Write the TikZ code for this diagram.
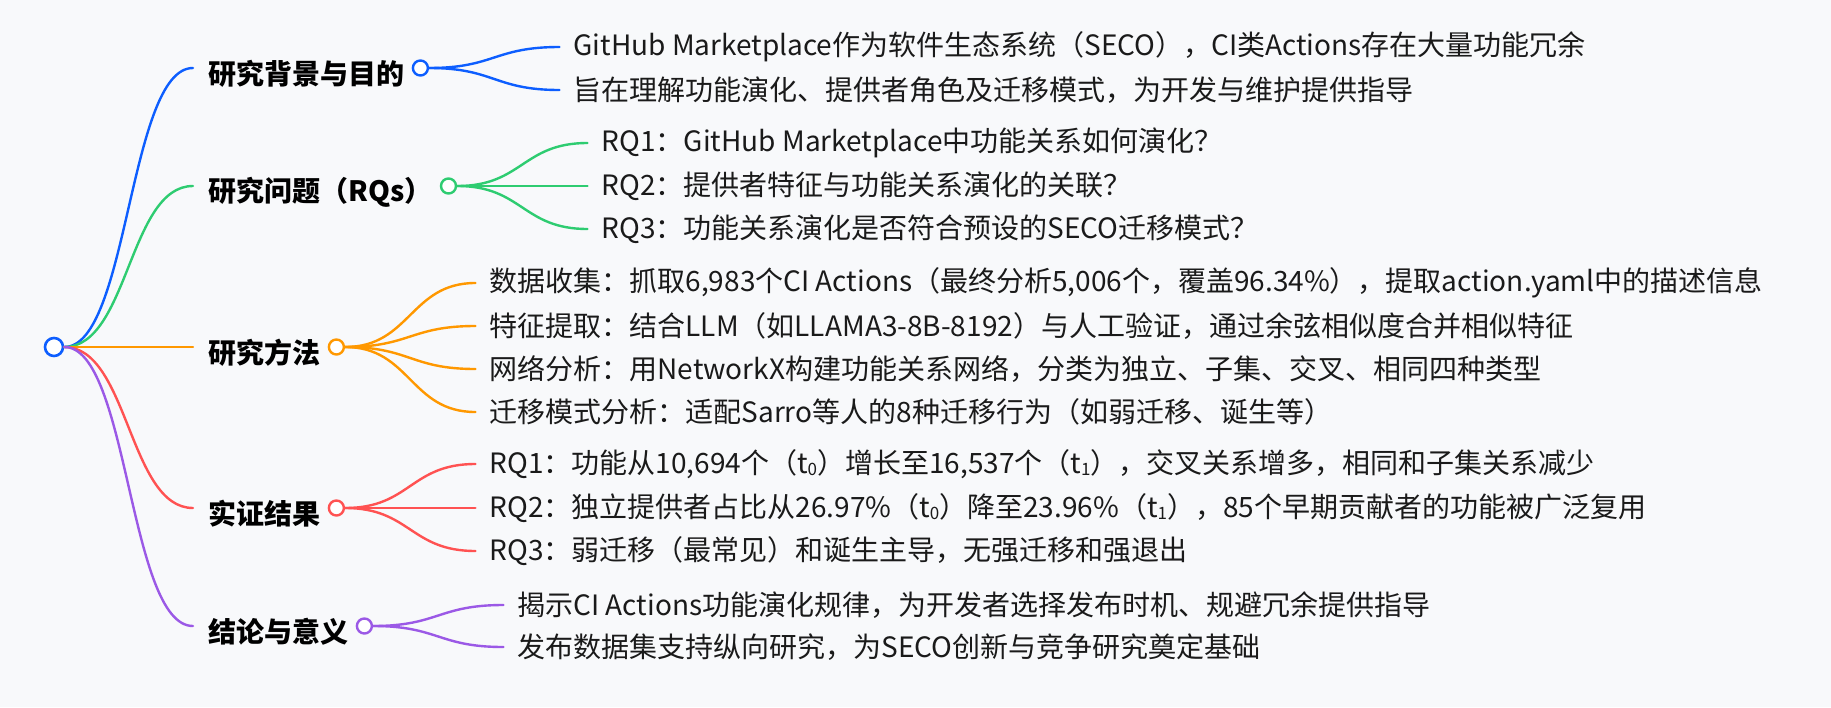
\documentclass[tikz,border=0pt]{standalone}
\usepackage{fontspec}
\setmainfont{Noto Sans CJK SC}
\usetikzlibrary{calc}
\definecolor{bgc}{HTML}{F8F9FB}
\definecolor{cblue}{HTML}{0D5EFF}
\definecolor{cgreen}{HTML}{2ECC71}
\definecolor{corange}{HTML}{FF9800}
\definecolor{cred}{HTML}{FF5252}
\definecolor{cpurple}{HTML}{9B59E6}
\definecolor{ctext}{HTML}{1A1A1A}
\newcommand{\sbs}[1]{\raisebox{-0.08em}{\fontsize{17}{17}\selectfont #1}}
\begin{document}
\begin{tikzpicture}[x=1pt,y=-1pt,
  conn/.style={line width=2.4pt, line cap=round},
  sconn/.style={to path={let \p1=(\tikztostart), \p2=(\tikztotarget), \p3=($(\tikztostart)!.5!(\tikztotarget)$) in .. controls (\x3,\y1) and (\x3,\y2) .. (\tikztotarget)}},
  rootc/.style={circle, draw=cblue, fill=white, line width=2.6pt, minimum size=18pt, inner sep=0pt},
  l1c/.style={circle, fill=white, line width=2.4pt, minimum size=15pt, inner sep=0pt},
  l1/.style={font=\fontsize{28}{34}\selectfont\bfseries, inner sep=0pt, anchor=west, text=black},
  l2/.style={font=\fontsize{28}{34}\selectfont, inner sep=0pt, anchor=west, text=ctext}]
\fill[bgc] (0,0) rectangle (1831,707);
\useasboundingbox (0,0) rectangle (1831,707);

\node[rootc] (root) at (54,347) {};

% ---------- Branch A ----------
\coordinate (Ain) at (193,68);
\node[l1] (A) at (208,74) {研究背景与目的};
\node[l1c, draw=cblue] (Ac) at ($(A.east |- Ain)+(16,0)$) {};
\draw[conn, cblue] (root.east) to[sconn] (Ain);
\coordinate (A1e) at ($(Ac)+(139,-21)$);
\coordinate (A2e) at ($(Ac)+(139,22)$);
\draw[conn, cblue] (Ac.east) to[sconn] (A1e);
\draw[conn, cblue] (Ac.east) to[sconn] (A2e);
\node[l2] (A1) at ($(A1e)+(14,0)$) {GitHub Marketplace作为软件生态系统（SECO），CI类Actions存在大量功能冗余};
\node[l2] (A2) at ($(A2e)+(14,0)$) {旨在理解功能演化、提供者角色及迁移模式，为开发与维护提供指导};

% ---------- Branch B ----------
\coordinate (Bin) at (193,186);
\node[l1] (B) at (208,192) {研究问题（RQs）};
\node[l1c, draw=cgreen] (Bc) at ($(B.east |- Bin)+(16,0)$) {};
\draw[conn, cgreen] (root.east) to[sconn] (Bin);
\coordinate (B1e) at ($(Bc)+(139,-43)$);
\coordinate (B2e) at ($(Bc)+(139,0)$);
\coordinate (B3e) at ($(Bc)+(139,43)$);
\draw[conn, cgreen] (Bc.east) to[sconn] (B1e);
\draw[conn, cgreen] (Bc.east) to[sconn] (B2e);
\draw[conn, cgreen] (Bc.east) to[sconn] (B3e);
\node[l2] (B1) at ($(B1e)+(14,0)$) {RQ1：GitHub Marketplace中功能关系如何演化？};
\node[l2] (B2) at ($(B2e)+(14,0)$) {RQ2：提供者特征与功能关系演化的关联？};
\node[l2] (B3) at ($(B3e)+(14,0)$) {RQ3：功能关系演化是否符合预设的SECO迁移模式？};

% ---------- Branch C ----------
\coordinate (Cin) at (193,347);
\node[l1] (C) at (208,353) {研究方法};
\node[l1c, draw=corange] (Cc) at ($(C.east |- Cin)+(16,0)$) {};
\draw[conn, corange] (root.east) to[sconn] (Cin);
\coordinate (C1e) at ($(Cc)+(139,-64)$);
\coordinate (C2e) at ($(Cc)+(139,-21)$);
\coordinate (C3e) at ($(Cc)+(139,22)$);
\coordinate (C4e) at ($(Cc)+(139,65)$);
\draw[conn, corange] (Cc.east) to[sconn] (C1e);
\draw[conn, corange] (Cc.east) to[sconn] (C2e);
\draw[conn, corange] (Cc.east) to[sconn] (C3e);
\draw[conn, corange] (Cc.east) to[sconn] (C4e);
\node[l2] (C1) at ($(C1e)+(14,0)$) {数据收集：抓取6,983个CI Actions（最终分析5,006个，覆盖96.34\%），提取action.yaml中的描述信息};
\node[l2] (C2) at ($(C2e)+(14,0)$) {特征提取：结合LLM（如LLAMA3-8B-8192）与人工验证，通过余弦相似度合并相似特征};
\node[l2] (C3) at ($(C3e)+(14,0)$) {网络分析：用NetworkX构建功能关系网络，分类为独立、子集、交叉、相同四种类型};
\node[l2] (C4) at ($(C4e)+(14,0)$) {迁移模式分析：适配Sarro等人的8种迁移行为（如弱迁移、诞生等）};

% ---------- Branch D ----------
\coordinate (Din) at (193,508);
\node[l1] (D) at (208,514) {实证结果};
\node[l1c, draw=cred] (Dc) at ($(D.east |- Din)+(16,0)$) {};
\draw[conn, cred] (root.east) to[sconn] (Din);
\coordinate (D1e) at ($(Dc)+(139,-44)$);
\coordinate (D2e) at ($(Dc)+(139,0)$);
\coordinate (D3e) at ($(Dc)+(139,43)$);
\draw[conn, cred] (Dc.east) to[sconn] (D1e);
\draw[conn, cred] (Dc.east) to[sconn] (D2e);
\draw[conn, cred] (Dc.east) to[sconn] (D3e);
\node[l2] (D1) at ($(D1e)+(14,0)$) {RQ1：功能从10,694个（t\sbs{0}）增长至16,537个（t\sbs{1}），交叉关系增多，相同和子集关系减少};
\node[l2] (D2) at ($(D2e)+(14,0)$) {RQ2：独立提供者占比从26.97\%（t\sbs{0}）降至23.96\%（t\sbs{1}），85个早期贡献者的功能被广泛复用};
\node[l2] (D3) at ($(D3e)+(14,0)$) {RQ3：弱迁移（最常见）和诞生主导，无强迁移和强退出};

% ---------- Branch E ----------
\coordinate (Ein) at (193,626);
\node[l1] (E) at (208,632) {结论与意义};
\node[l1c, draw=cpurple] (Ec) at ($(E.east |- Ein)+(16,0)$) {};
\draw[conn, cpurple] (root.east) to[sconn] (Ein);
\coordinate (E1e) at ($(Ec)+(139,-21)$);
\coordinate (E2e) at ($(Ec)+(139,21)$);
\draw[conn, cpurple] (Ec.east) to[sconn] (E1e);
\draw[conn, cpurple] (Ec.east) to[sconn] (E2e);
\node[l2] (E1) at ($(E1e)+(14,0)$) {揭示CI Actions功能演化规律，为开发者选择发布时机、规避冗余提供指导};
\node[l2] (E2) at ($(E2e)+(14,0)$) {发布数据集支持纵向研究，为SECO创新与竞争研究奠定基础};
\end{tikzpicture}
\end{document}
